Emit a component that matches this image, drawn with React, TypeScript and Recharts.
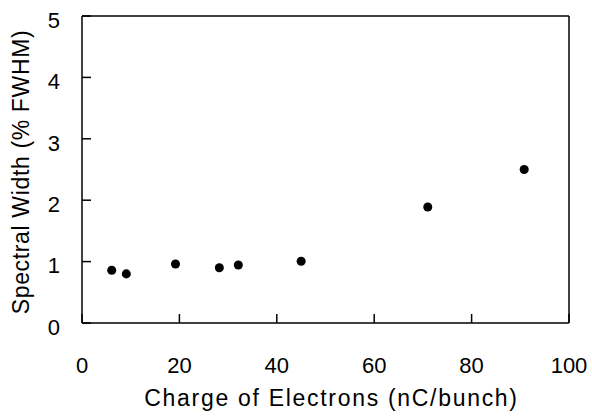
import React from "react";
import {
  ScatterChart,
  Scatter,
  XAxis,
  YAxis,
  ReferenceLine,
} from "recharts";

// charge (nC/bunch) vs spectral width (% FWHM)
const charge = [6.1, 9.1, 19.2, 28.2, 32.1, 45.0, 71.0, 90.8];
const width = [0.86, 0.8, 0.96, 0.9, 0.945, 1.005, 1.89, 2.5];
const xTicks = [0, 20, 40, 60, 80, 100];
const yTicks = [0, 1, 2, 3, 4, 5];

const points = charge.map((c, i) => ({ x: c, y: width[i] }));

const FONT = "'Liberation Sans', Arial, sans-serif";
const tickStyle = { fontSize: 22, fill: "#000", fontFamily: FONT };

export default function App() {
  return (
    <div style={{ position: "absolute", left: 0, top: 0, background: "#fff" }}>
      <ScatterChart
        width={592}
        height={417}
        margin={{ top: 16, right: 23, left: 0, bottom: 0 }}
      >
        <XAxis
          type="number"
          dataKey="x"
          domain={[0, 100]}
          ticks={xTicks}
          height={94}
          tick={tickStyle}
          tickSize={-9}
          tickMargin={43}
          stroke="#000"
          strokeWidth={1.5}
          label={{
            value: "Charge of Electrons (nC/bunch)",
            position: "insideBottom",
            offset: 11,
            dx: 6,
            style: {
              fontSize: 23,
              fill: "#000",
              fontFamily: FONT,
              letterSpacing: 1.7,
            },
          }}
        />
        <YAxis
          type="number"
          dataKey="y"
          domain={[0, 5]}
          ticks={yTicks}
          width={82}
          tick={{ ...tickStyle, dy: 4 }}
          tickSize={-9}
          tickMargin={31}
          stroke="#000"
          strokeWidth={1.5}
          label={{
            content: ({ viewBox }: any) => {
              const cx = viewBox.x + 29;
              const cy = viewBox.y + 156;
              return (
                <text
                  x={cx}
                  y={cy}
                  transform={`rotate(-90, ${cx}, ${cy})`}
                  textAnchor="middle"
                  style={{
                    fontSize: 23,
                    fill: "#000",
                    fontFamily: FONT,
                    letterSpacing: 0.65,
                  }}
                >
                  Spectral Width (% FWHM)
                </text>
              );
            },
          }}
        />
        <ReferenceLine y={5} stroke="#000" strokeWidth={1.5} />
        <ReferenceLine x={100} stroke="#000" strokeWidth={1.5} />
        <Scatter data={points} fill="#000" isAnimationActive={false} />
      </ScatterChart>
    </div>
  );
}
